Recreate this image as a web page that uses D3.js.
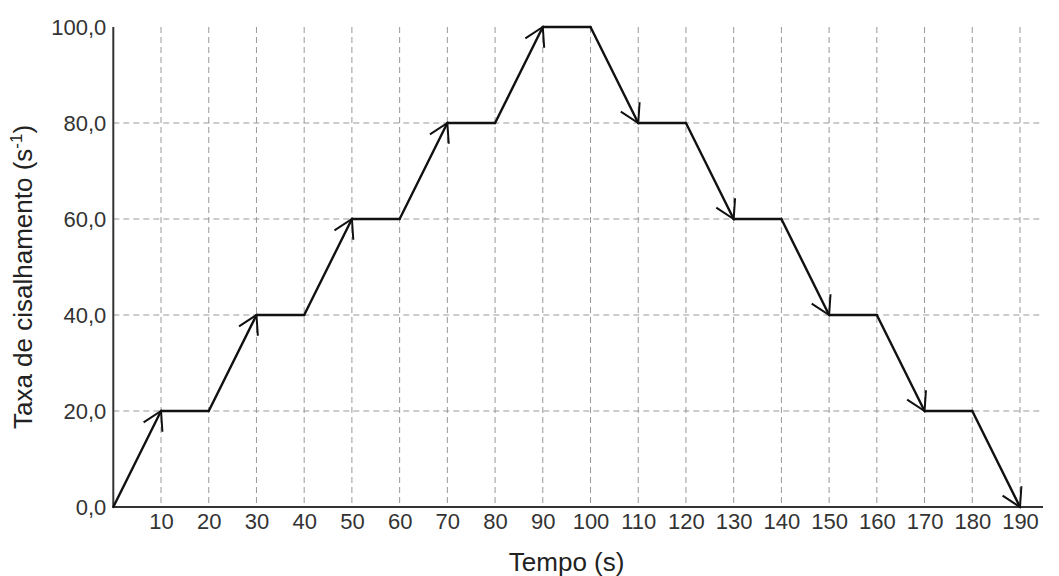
<!DOCTYPE html>
<html>
<head>
<meta charset="utf-8">
<script src="https://cdn.jsdelivr.net/npm/d3@7"></script>
<style>
  body { margin: 0; background: #fff; }
  text { font-family: "Liberation Sans", Arial, sans-serif; }
</style>
</head>
<body>
<script>
var width = 1059,
    height = 576;

// data
var tempo = [0, 10, 20, 30, 40, 50, 60, 70, 80, 90, 100, 110, 120, 130, 140, 150, 160, 170, 180, 190];
var taxa = [0, 20, 20, 40, 40, 60, 60, 80, 80, 100, 100, 80, 80, 60, 60, 40, 40, 20, 20, 0];
var xTicks = [10, 20, 30, 40, 50, 60, 70, 80, 90, 100, 110, 120, 130, 140, 150, 160, 170, 180, 190];
var yTicks = [0, 20, 40, 60, 80, 100];
var yGrid = [20, 40, 60, 80];

// plot box ("top" is taken by window.top, so other names)
var pLeft = 113.3, pRight = 1043, pTop = 27, pBottom = 507;

var x = d3.scaleLinear().domain([0, 190]).range([pLeft, 1020]);
var y = d3.scaleLinear().domain([0, 100]).range([pBottom, pTop]);

var svg = d3.select('body').append('svg')
    .attr('width', width)
    .attr('height', height);

svg.append('defs').append('marker')
    .attr('id', 'arrow')
    .attr('markerUnits', 'userSpaceOnUse')
    .attr('viewBox', '-22 -12 24 24')
    .attr('refX', 0).attr('refY', 0)
    .attr('markerWidth', 24).attr('markerHeight', 24)
    .attr('orient', 'auto')
    .append('path')
    .attr('d', 'M-18,-10.5 L0,0 L-18,10.5')
    .attr('fill', 'none')
    .attr('stroke', '#111')
    .attr('stroke-width', 2);

// grid
svg.append('g').selectAll('line')
    .data(xTicks)
    .enter().append('line')
    .attr('x1', function (d) { return x(d); })
    .attr('x2', function (d) { return x(d); })
    .attr('y1', pTop)
    .attr('y2', pBottom)
    .attr('stroke', '#999')
    .attr('stroke-width', 1)
    .attr('stroke-dasharray', '6,4');

svg.append('g').selectAll('line')
    .data(yGrid)
    .enter().append('line')
    .attr('x1', pLeft)
    .attr('x2', pRight)
    .attr('y1', function (d) { return y(d); })
    .attr('y2', function (d) { return y(d); })
    .attr('stroke', '#999')
    .attr('stroke-width', 1)
    .attr('stroke-dasharray', '6,4');

// axes
var fmt = function (d) { return d3.format('.1f')(d).replace('.', ','); };

var yAxis = svg.append('g')
    .attr('transform', 'translate(' + pLeft + ',0)')
    .call(d3.axisLeft(y).tickValues(yTicks).tickSize(0).tickPadding(7).tickFormat(fmt));
yAxis.select('.domain').remove();
yAxis.selectAll('text')
    .attr('font-size', 22)
    .attr('fill', '#333')
    .style('font-family', '"Liberation Sans", Arial, sans-serif');

var xAxis = svg.append('g')
    .attr('transform', 'translate(0,' + pBottom + ')')
    .call(d3.axisBottom(x).tickValues(xTicks).tickSize(0).tickPadding(6));
xAxis.select('.domain').remove();
xAxis.selectAll('text')
    .attr('font-size', 22)
    .attr('fill', '#333')
    .style('font-family', '"Liberation Sans", Arial, sans-serif');

svg.append('line')
    .attr('x1', pLeft).attr('x2', pLeft)
    .attr('y1', pTop).attr('y2', pBottom)
    .attr('stroke', '#333').attr('stroke-width', 2);
svg.append('line')
    .attr('x1', pLeft).attr('x2', pRight)
    .attr('y1', pBottom).attr('y2', pBottom)
    .attr('stroke', '#333').attr('stroke-width', 2);

// the step line, sloped pieces end with an arrow
var segs = d3.range(tempo.length - 1).map(function (i) {
    return { x0: tempo[i], y0: taxa[i], x1: tempo[i + 1], y1: taxa[i + 1] };
});

svg.append('g').selectAll('line')
    .data(segs)
    .enter().append('line')
    .attr('x1', function (d) { return x(d.x0); })
    .attr('y1', function (d) { return y(d.y0); })
    .attr('x2', function (d) { return x(d.x1); })
    .attr('y2', function (d) { return y(d.y1); })
    .attr('stroke', '#111')
    .attr('stroke-width', 2.4)
    .attr('stroke-linecap', 'round')
    .attr('marker-end', function (d) { return d.y0 !== d.y1 ? 'url(#arrow)' : null; });

// titles
svg.append('text')
    .attr('x', (pLeft + 1020) / 2)
    .attr('y', 571)
    .attr('text-anchor', 'middle')
    .attr('font-size', 26)
    .attr('fill', '#222')
    .text('Tempo (s)');

var yt = svg.append('text')
    .attr('transform', 'translate(32,' + 277 + ') rotate(-90)')
    .attr('text-anchor', 'middle')
    .attr('font-size', 26)
    .attr('fill', '#222');
yt.append('tspan').text('Taxa de cisalhamento (s');
yt.append('tspan').attr('font-size', 17).attr('dy', -10).text('-1');
yt.append('tspan').attr('dy', 10).text(')');
</script>
</body>
</html>
